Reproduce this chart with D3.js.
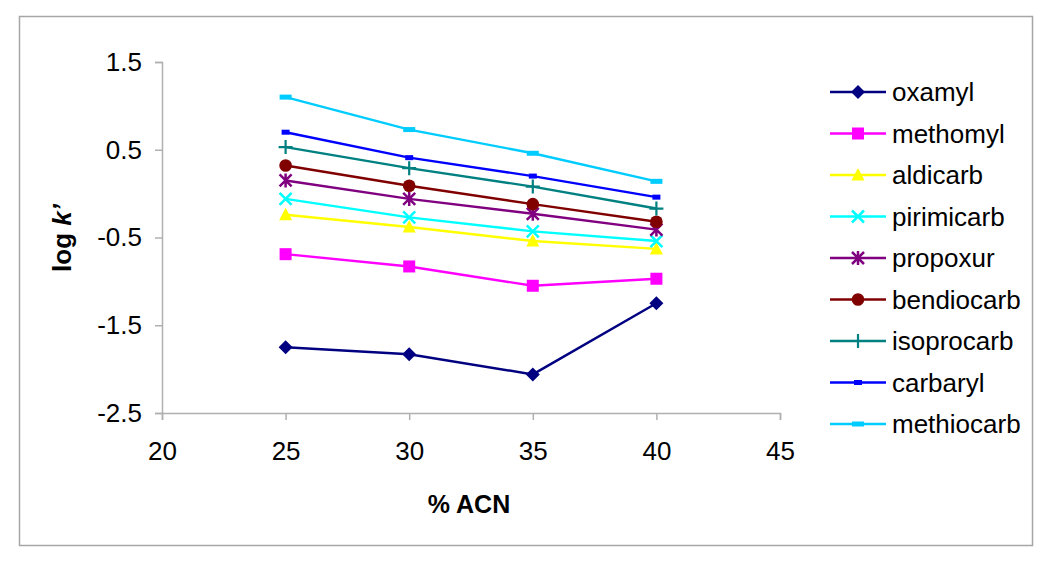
<!DOCTYPE html>
<html><head><meta charset="utf-8">
<script src="https://cdn.jsdelivr.net/npm/d3@7"></script>
<style>
html,body{margin:0;padding:0;background:#fff;}
text{font-family:"Liberation Sans",Arial,sans-serif;fill:#000;}
</style></head>
<body>
<svg id="chart" width="1050" height="568"></svg>
<script>
const xValues = [25, 30, 35, 40];
const seriesNames = ["oxamyl","methomyl","aldicarb","pirimicarb","propoxur","bendiocarb","isoprocarb","carbaryl","methiocarb"];
const oxamyl     = [-1.75, -1.83, -2.06, -1.25];
const methomyl   = [-0.69, -0.83, -1.05, -0.97];
const aldicarb   = [-0.24, -0.38, -0.54, -0.63];
const pirimicarb = [-0.06, -0.27, -0.43, -0.54];
const propoxur   = [0.15, -0.06, -0.23, -0.41];
const bendiocarb = [0.32, 0.09, -0.12, -0.32];
const isoprocarb = [0.53, 0.29, 0.08, -0.17];
const carbaryl   = [0.70, 0.41, 0.20, -0.04];
const methiocarb = [1.10, 0.73, 0.46, 0.14];
const xTicks = [20, 25, 30, 35, 40, 45];
const yTicks = [1.5, 0.5, -0.5, -1.5, -2.5];
const yTickLabels = ["1.5", "0.5", "-0.5", "-1.5", "-2.5"];
const colors = ["#000080","#FF00FF","#FFFF00","#00FFFF","#800080","#800000","#008080","#0000FF","#00CCFF"];
const markers = ["diamond","square","triangle","x","asterisk","circle","plus","shortbar","longbar"];
const allValues = [oxamyl, methomyl, aldicarb, pirimicarb, propoxur, bendiocarb, isoprocarb, carbaryl, methiocarb];

const svg = d3.select("#chart");
// outer border
svg.append("rect").attr("x",19.5).attr("y",16.5).attr("width",1013).attr("height",529)
  .attr("fill","none").attr("stroke","#a6a6a6").attr("stroke-width",1.5);

const x = d3.scaleLinear().domain([20,45]).range([162,780]);
const y = d3.scaleLinear().domain([-2.5,1.5]).range([413,62]);
const axisColor = "#b0b0b0";

// y axis
const gy = svg.append("g").attr("transform","translate(162,0)")
  .call(d3.axisLeft(y).tickValues(yTicks).tickSize(7).tickPadding(13)
    .tickFormat((d,i)=>yTickLabels[i]));
gy.select(".domain").attr("stroke",axisColor).attr("stroke-width",1.5);
gy.selectAll(".tick line").attr("stroke",axisColor).attr("stroke-width",1.5);
gy.selectAll(".tick text").style("font-size","26px").attr("fill","#000");

// x axis
const gx = svg.append("g").attr("transform","translate(0,413)")
  .call(d3.axisBottom(x).tickValues(xTicks).tickSize(7).tickPadding(22).tickFormat(d3.format("d")));
gx.select(".domain").attr("stroke",axisColor).attr("stroke-width",1.5);
gx.selectAll(".tick line").attr("stroke",axisColor).attr("stroke-width",1.5);
gx.selectAll(".tick text").style("font-size","26px").attr("fill","#000");

// axis titles
svg.append("text").attr("x",469).attr("y",513).attr("text-anchor","middle")
  .style("font-size","25px").style("font-weight","bold").text("% ACN");
const yt = svg.append("text").attr("transform","translate(71,238) rotate(-90)").attr("text-anchor","middle")
  .style("font-size","26px").style("font-weight","bold");
yt.append("tspan").text("log ");
yt.append("tspan").style("font-style","italic").text("k’");

function drawMarker(g, type, color, cx, cy){
  const s = 6.5;
  if(type==="diamond"){
    g.append("path").attr("d",`M${cx},${cy-s-0.5}L${cx+s+0.5},${cy}L${cx},${cy+s+0.5}L${cx-s-0.5},${cy}Z`).attr("fill",color);
  } else if(type==="square"){
    g.append("rect").attr("x",cx-6).attr("y",cy-6).attr("width",12).attr("height",12).attr("fill",color);
  } else if(type==="triangle"){
    g.append("path").attr("d",`M${cx},${cy-7}L${cx+6.5},${cy+5.5}L${cx-6.5},${cy+5.5}Z`).attr("fill",color);
  } else if(type==="x"){
    g.append("path").attr("d",`M${cx-6},${cy-6}L${cx+6},${cy+6}M${cx-6},${cy+6}L${cx+6},${cy-6}`).attr("stroke",color).attr("stroke-width",2.5);
  } else if(type==="asterisk"){
    g.append("path").attr("d",`M${cx-6},${cy-6}L${cx+6},${cy+6}M${cx-6},${cy+6}L${cx+6},${cy-6}M${cx},${cy-7}L${cx},${cy+7}`).attr("stroke",color).attr("stroke-width",2.5);
  } else if(type==="circle"){
    g.append("circle").attr("cx",cx).attr("cy",cy).attr("r",6.3).attr("fill",color);
  } else if(type==="plus"){
    g.append("path").attr("d",`M${cx-7},${cy}L${cx+7},${cy}M${cx},${cy-7}L${cx},${cy+7}`).attr("stroke",color).attr("stroke-width",2.2);
  } else if(type==="shortbar"){
    g.append("rect").attr("x",cx-4).attr("y",cy-2.5).attr("width",8).attr("height",5).attr("fill",color);
  } else if(type==="longbar"){
    g.append("rect").attr("x",cx-6).attr("y",cy-2.5).attr("width",12).attr("height",5).attr("fill",color);
  }
}

const line = d3.line().x((d,i)=>x(xValues[i])).y(d=>y(d));
const plot = svg.append("g");
allValues.forEach((vals,k)=>{
  const g = plot.append("g");
  g.append("path").attr("d",line(vals)).attr("fill","none").attr("stroke",colors[k]).attr("stroke-width",2.4);
  vals.forEach((v,i)=>drawMarker(g, markers[k], colors[k], x(xValues[i]), y(v)));
});

// legend
const legend = svg.append("g");
seriesNames.forEach((name,k)=>{
  const ly = 92 + k*41.5;
  const g = legend.append("g");
  g.append("line").attr("x1",830).attr("x2",886).attr("y1",ly).attr("y2",ly).attr("stroke",colors[k]).attr("stroke-width",2.4);
  drawMarker(g, markers[k], colors[k], 858, ly);
  g.append("text").attr("x",892).attr("y",ly+9).style("font-size","26px").text(name);
});
</script>
</body></html>
